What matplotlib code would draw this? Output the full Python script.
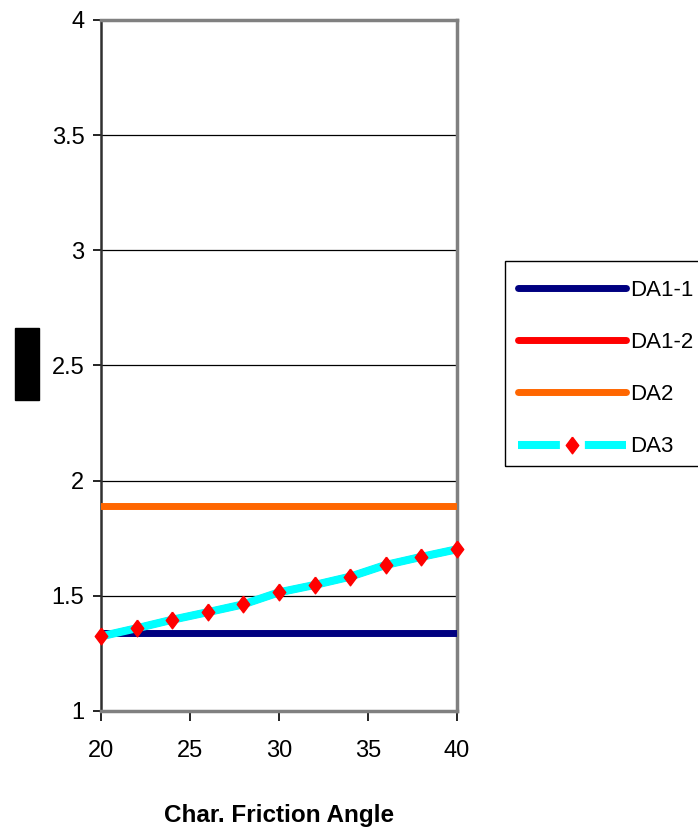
import matplotlib
matplotlib.use("Agg")
import matplotlib.pyplot as plt
from matplotlib.lines import Line2D
from matplotlib.patches import Rectangle

plt.rcParams["font.family"] = ["Liberation Sans", "DejaVu Sans"]

# friction angle (deg)
angles = [20, 22, 24, 26, 28, 30, 32, 34, 36, 38, 40]
# over-design factor per design approach
da1_1 = [1.34] * len(angles)
da1_2 = [1.324, 1.359, 1.396, 1.429, 1.463, 1.515, 1.547, 1.583, 1.634, 1.669, 1.702]
da2 = [1.89] * len(angles)
da3 = [1.324, 1.359, 1.396, 1.429, 1.463, 1.515, 1.547, 1.583, 1.634, 1.669, 1.702]

series_names = ["DA1-1", "DA1-2", "DA2", "DA3"]
x_ticks = [20, 25, 30, 35, 40]
y_ticks = [1, 1.5, 2, 2.5, 3, 3.5, 4]
y_labels = ["1", "1.5", "2", "2.5", "3", "3.5", "4"]

NAVY = "#000080"
RED = "#ff0000"
ORANGE = "#ff6600"
CYAN = "#00ffff"
# diamond a bit wider than matplotlib's thin diamond
DIAMOND = [(0, 1), (0.75, 0), (0, -1), (-0.75, 0), (0, 1)]

W, H = 698, 833
fig = plt.figure(figsize=(W / 100, H / 100), dpi=100)
ax = fig.add_axes([0.1447, 0.1465, 0.5100, 0.8295])

ax.plot(angles, da1_1, color=NAVY, lw=5, solid_capstyle="round", zorder=3)
ax.plot(angles, da1_2, color=RED, lw=5, solid_capstyle="round", zorder=3)
ax.plot(angles, da2, color=ORANGE, lw=5, solid_capstyle="round", zorder=3)
ax.plot(angles, da3, color=CYAN, lw=5.8, zorder=4)
ax.plot(angles, da3, ls="none", marker=DIAMOND, ms=12, color=RED, mec=RED,
        zorder=5, clip_on=False)

ax.set_xlim(20, 40)
ax.set_ylim(1, 4)
ax.set_xticks(x_ticks)
ax.set_yticks(y_ticks)
ax.set_yticklabels(y_labels)
ax.yaxis.grid(True, color="black", lw=0.9)
ax.set_axisbelow(True)

ax.tick_params(axis="both", labelsize=17, color="black", width=1.2)
ax.tick_params(axis="y", direction="out", length=6, pad=6)
ax.tick_params(axis="x", direction="out", length=7, pad=14)

for side in ["top", "right", "bottom"]:
    ax.spines[side].set_color("#808080")
    ax.spines[side].set_linewidth(2.5)
ax.spines["left"].set_color("#303030")
ax.spines["left"].set_linewidth(1.8)

ax.set_xlabel("Char. Friction Angle", fontsize=17.5, fontweight="bold", labelpad=30)

# legend entries; the box runs off the right edge
handles = [
    Line2D([], [], color=NAVY, lw=5, solid_capstyle="round"),
    Line2D([], [], color=RED, lw=5, solid_capstyle="round"),
    Line2D([], [], color=ORANGE, lw=5, solid_capstyle="round"),
    Line2D([], [], color=CYAN, lw=5.8, ls=(0, (5.2, 3.1, 5.2, 20)),
           marker=DIAMOND, ms=12, mfc=RED, mec=RED),
]
fig.legend(handles, series_names, loc="upper left",
           bbox_to_anchor=(518 / W, 1 - 280 / H),
           fontsize=16, frameon=False,
           handlelength=4.86, handletextpad=0.18, labelspacing=1.4,
           borderpad=0, borderaxespad=0, numpoints=1)
fig.patches.append(Rectangle((505 / W, 1 - 466 / H), 220 / W, 205 / H,
                             transform=fig.transFigure, fill=False,
                             edgecolor="black", lw=1.0))

# filled block left of the y axis
fig.patches.append(Rectangle((15 / W, 1 - 400 / H), 24 / W, 72 / H,
                             transform=fig.transFigure, color="black"))

fig.savefig("out.png", dpi=100)
